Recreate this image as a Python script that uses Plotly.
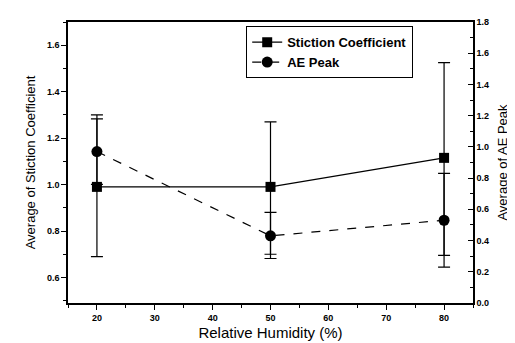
import plotly.graph_objects as go

humidity = [20, 50, 80]
stiction = [0.99, 0.99, 1.115]
stiction_err_plus = [0.31, 0.28, 0.41]
stiction_err_minus = [0.30, 0.29, 0.42]
ae_peak = [0.97, 0.43, 0.53]
ae_err_plus = [0.21, 0.15, 0.30]
ae_err_minus = [0.21, 0.145, 0.30]

x_ticks = [20, 30, 40, 50, 60, 70, 80]
left_ticks = [0.6, 0.8, 1.0, 1.2, 1.4, 1.6]
right_ticks = [0.0, 0.2, 0.4, 0.6, 0.8, 1.0, 1.2, 1.4, 1.6, 1.8]

FONT = "Liberation Sans, Arial, sans-serif"

fig = go.Figure()
fig.add_trace(go.Scatter(
    x=humidity, y=stiction, name="Stiction Coefficient",
    mode="lines+markers",
    line=dict(color="black", width=1.2),
    marker=dict(symbol="square", size=10, color="black"),
    error_y=dict(type="data", array=stiction_err_plus, arrayminus=stiction_err_minus,
                 color="black", thickness=1.2, width=6),
    yaxis="y",
))
fig.add_trace(go.Scatter(
    x=humidity, y=ae_peak, name="AE Peak",
    mode="lines+markers",
    line=dict(color="black", width=1.2, dash="dash"),
    marker=dict(symbol="circle", size=11, color="black"),
    error_y=dict(type="data", array=ae_err_plus, arrayminus=ae_err_minus,
                 color="black", thickness=1.2, width=6),
    yaxis="y2",
))

tickfont = dict(family=FONT, size=9, color="black", weight="bold")

fig.update_layout(
    width=515, height=343,
    margin=dict(l=60, r=50, t=13, b=47),
    paper_bgcolor="white", plot_bgcolor="white",
    font=dict(family=FONT, color="black"),
    showlegend=True,
    legend=dict(
        x=0.44, y=0.985, xanchor="left", yanchor="top",
        bordercolor="black", borderwidth=1, bgcolor="white",
        font=dict(family=FONT, size=13, color="black", weight="bold"),
        tracegroupgap=0, itemwidth=30,
    ),
    xaxis=dict(
        range=[15, 85], tickvals=x_ticks, ticks="outside", ticklen=5,
        tickwidth=1.2, tickcolor="black",
        minor=dict(dtick=5, ticks="outside", ticklen=3, tickcolor="black"),
        showline=True, linecolor="black", linewidth=1.5, mirror=True,
        showgrid=False, zeroline=False, tickfont=tickfont,
        title=dict(text="Relative Humidity (%)", font=dict(family=FONT, size=15), standoff=6),
    ),
    yaxis=dict(
        range=[0.49, 1.70], tickvals=left_ticks, tickformat=".1f", ticks="outside", ticklen=5,
        tickwidth=1.2, tickcolor="black",
        minor=dict(dtick=0.1, tick0=0.5, ticks="outside", ticklen=3, tickcolor="black"),
        showline=True, linecolor="black", linewidth=1.5,
        showgrid=False, zeroline=False, tickfont=tickfont,
        title=dict(text="Average of Stiction Coefficient", font=dict(family=FONT, size=13), standoff=8),
    ),
    yaxis2=dict(
        range=[0, 1.8], tickvals=right_ticks, tickformat=".1f", ticks="inside", ticklen=5,
        tickwidth=1.2, tickcolor="black",
        minor=dict(dtick=0.1, ticks="inside", ticklen=3, tickcolor="black"),
        overlaying="y", side="right", automargin=False,
        showline=True, linecolor="black", linewidth=1.5,
        showgrid=False, zeroline=False, tickfont=tickfont,
        title=dict(text="Average of AE Peak", font=dict(family=FONT, size=13), standoff=10),
    ),
)

fig.write_html("out.html")
